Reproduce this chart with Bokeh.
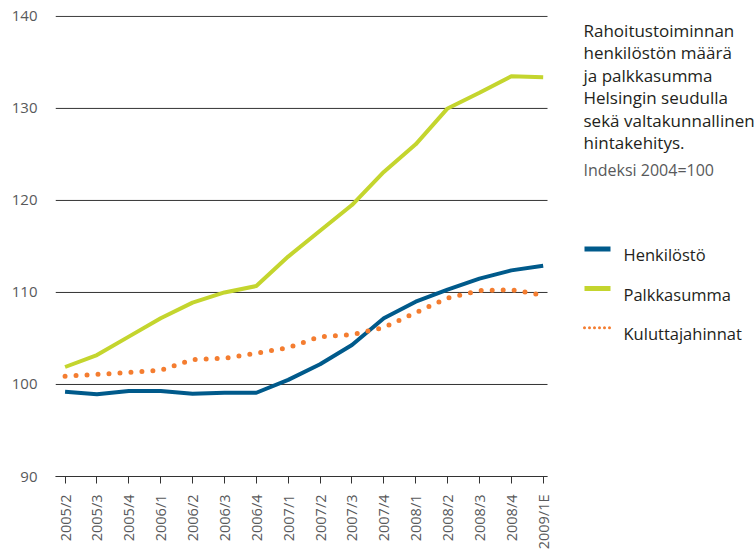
from bokeh.plotting import figure
from bokeh.models import Range1d, FixedTicker, Label
from bokeh.embed import file_html
from bokeh.resources import INLINE
import math

# ---- data ----
categories = ["2005/2", "2005/3", "2005/4", "2006/1", "2006/2", "2006/3", "2006/4",
              "2007/1", "2007/2", "2007/3", "2007/4", "2008/1", "2008/2", "2008/3",
              "2008/4", "2009/1E"]
henkilosto = [99.2, 98.95, 99.3, 99.3, 99.0, 99.1, 99.1, 100.5, 102.2, 104.3,
              107.2, 109.0, 110.3, 111.5, 112.4, 112.9]
palkkasumma = [101.9, 103.2, 105.2, 107.2, 108.9, 110.0, 110.7, 113.9, 116.7, 119.5,
               123.1, 126.1, 130.0, 131.7, 133.5, 133.4]
kuluttajahinnat = [100.9, 101.1, 101.3, 101.55, 102.7, 102.85, 103.4, 104.0, 105.2,
                   105.4, 106.2, 107.8, 109.4, 110.2, 110.3, 109.7]
y_ticks = [90, 100, 110, 120, 130, 140]
title_lines = ["Rahoitustoiminnan", "henkilöstön määrä", "ja palkkasumma",
               "Helsingin seudulla", "sekä valtakunnallinen", "hintakehitys."]
subtitle = "Indeksi 2004=100"
series_names = ["Henkilöstö", "Palkkasumma", "Kuluttajahinnat"]

FONT = "Open Sans"
DARK = "#231f20"
GREY = "#58595b"
C_BLUE = "#005a8b"
C_GREEN = "#c4d52e"
C_ORANGE = "#f47d30"

W, H = 755, 552
BL, BT, BB = 55, 15, 75          # borders (px)
CHART_RIGHT = 547                # right edge of the chart area (px)
XS0, XPX = -0.3, 31.875          # x start and px per category
YS0, YS1 = 90, 140.1

FL, FR, FT, FBm = BL, W, BT, H - BB
x_end = XS0 + (FR - FL) / XPX
chart_x_end = XS0 + (CHART_RIGHT - FL) / XPX

p = figure(width=W, height=H, output_backend="svg", toolbar_location=None,
           x_range=Range1d(XS0, x_end), y_range=Range1d(YS0, YS1),
           min_border_left=BL, min_border_right=0, min_border_top=BT, min_border_bottom=BB)
p.outline_line_color = None
p.background_fill_color = None


def dx(px):
    return XS0 + (px - FL) / XPX


def dy(py):
    return YS1 - (py - FT) * (YS1 - YS0) / (FBm - FT)


xs = list(range(len(categories)))

p.xaxis.ticker = FixedTicker(ticks=xs)
p.xaxis.bounds = (XS0, chart_x_end)
p.xaxis.major_label_overrides = {i: c for i, c in enumerate(categories)}
p.xaxis.major_label_orientation = math.pi / 2
p.xaxis.axis_line_color = "#333333"
p.xaxis.axis_line_width = 1
p.xaxis.major_tick_line_color = "#333333"
p.xaxis.major_tick_out = 7
p.xaxis.major_tick_in = 0
p.xaxis.minor_tick_line_color = None
p.xaxis.major_label_standoff = 11
p.xaxis.major_label_text_font = FONT
p.xaxis.major_label_text_font_size = "14.5px"
p.xaxis.major_label_text_color = GREY

p.yaxis.ticker = FixedTicker(ticks=y_ticks)
p.yaxis.axis_line_color = None
p.yaxis.major_tick_line_color = None
p.yaxis.minor_tick_line_color = None
p.yaxis.major_label_standoff = 12
p.yaxis.major_label_text_font = FONT
p.yaxis.major_label_text_font_size = "15px"
p.yaxis.major_label_text_color = GREY

p.xgrid.grid_line_color = None
p.ygrid.grid_line_color = None
# horizontal reference lines limited to the chart area
p.segment(x0=[XS0] * len(y_ticks), y0=y_ticks, x1=[chart_x_end] * len(y_ticks), y1=y_ticks,
          line_color="#333333", line_width=1)

p.line(xs, henkilosto, line_color=C_BLUE, line_width=4, line_join="round")
p.line(xs, palkkasumma, line_color=C_GREEN, line_width=4, line_join="round")
p.line(xs, kuluttajahinnat, line_color=C_ORANGE, line_width=5,
       line_dash="0 11", line_cap="round")

# ---- title text ----
X0 = 583
baselines = [30, 52.5, 75, 97.5, 120, 142.5]
for t, b in zip(title_lines, baselines):
    p.add_layout(Label(x=dx(X0), y=dy(b), text=t, text_font=FONT,
                       text_font_size="17px", text_color=DARK,
                       text_baseline="alphabetic", text_align="left"))
p.add_layout(Label(x=dx(X0), y=dy(170), text=subtitle, text_font=FONT,
                   text_font_size="16px", text_color=GREY,
                   text_baseline="alphabetic", text_align="left"))

# ---- legend (drawn by hand) ----
leg_y = [249, 288.5, 328]
leg_styles = [dict(line_color=C_BLUE, line_width=5),
              dict(line_color=C_GREEN, line_width=5),
              dict(line_color=C_ORANGE, line_width=3, line_dash="0 5", line_cap="round")]
for name, ly, st in zip(series_names, leg_y, leg_styles):
    p.line([dx(X0 + 1), dx(X0 + 27)], [dy(ly), dy(ly)], **st)
    p.add_layout(Label(x=dx(X0 + 40), y=dy(ly + 6), text=name, text_font=FONT,
                       text_font_size="16.5px", text_color=DARK,
                       text_baseline="alphabetic", text_align="left"))

open("out.html", "w").write(file_html(p, INLINE))
